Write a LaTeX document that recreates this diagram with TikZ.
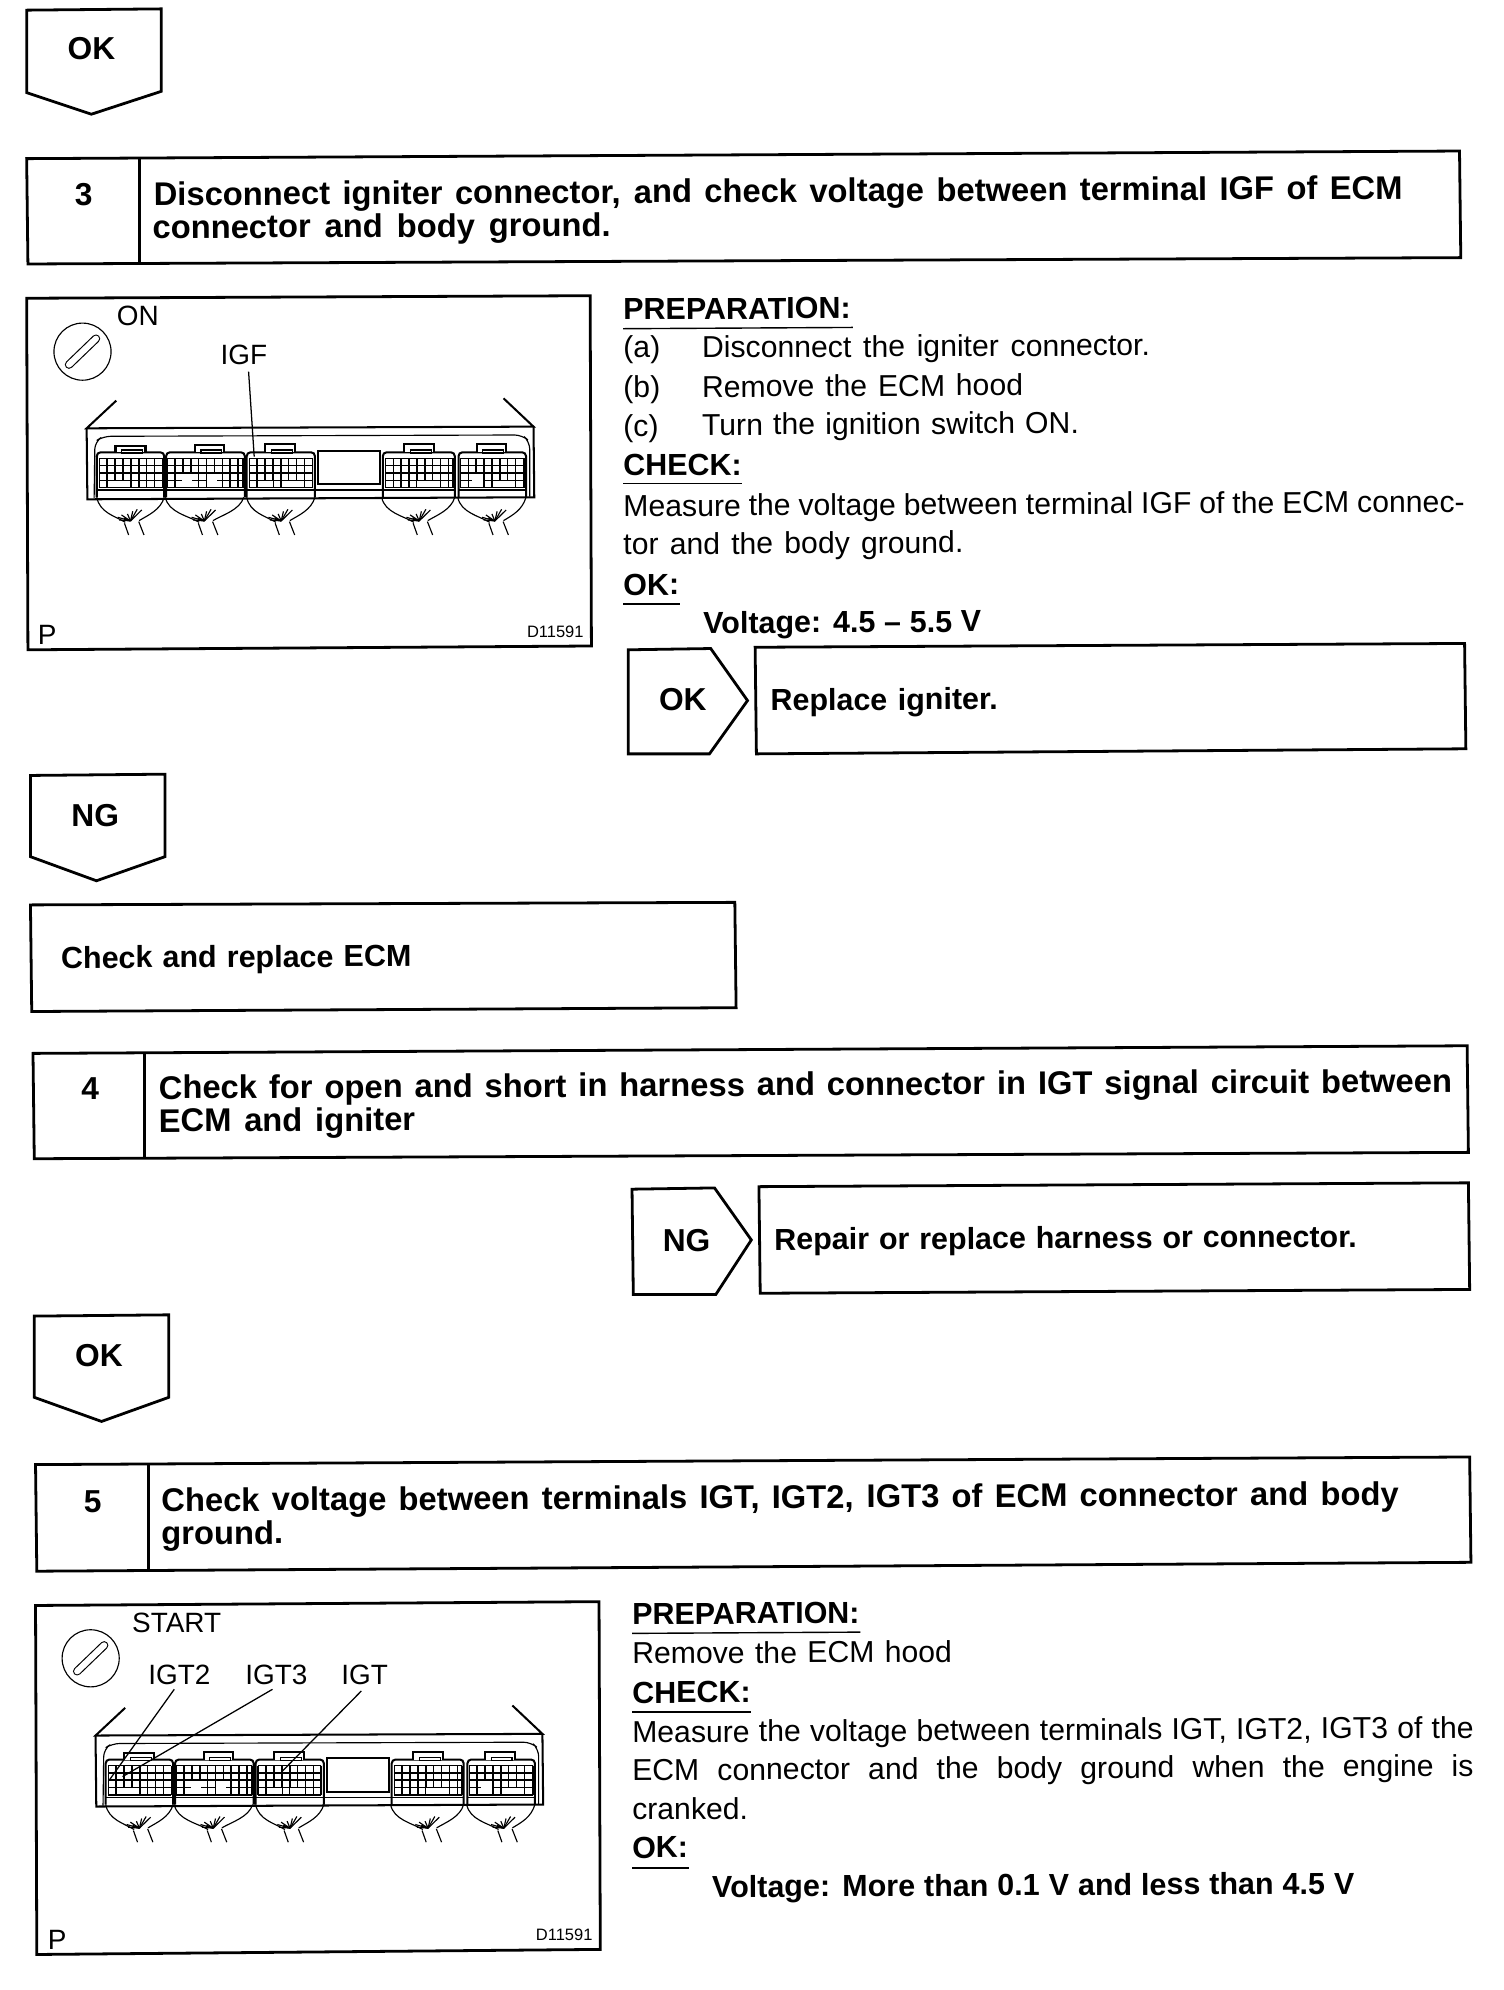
\documentclass[tikz,border=0pt]{standalone}
\usepackage{fontspec}
\setmainfont{Liberation Sans}
\tikzset{
 box/.style={draw=black,line width=2.2pt,line join=miter},
 rule/.style={draw=black,line width=1.1pt},
 body/.style={anchor=base west,inner sep=0pt,rotate=0.3,font=\fontsize{23.8}{24}\selectfont},
 head/.style={anchor=base west,inner sep=0pt,rotate=0.3,font=\fontsize{25.8}{26}\selectfont\bfseries},
 strong/.style={anchor=base west,inner sep=0pt,rotate=0.3,font=\fontsize{24}{24}\selectfont\bfseries},
 tag/.style={anchor=base,inner sep=0pt,font=\fontsize{25}{25}\selectfont\bfseries},
 lab/.style={anchor=base west,inner sep=0pt,font=\fontsize{22}{22}\selectfont},
 tiny/.style={anchor=base west,inner sep=0pt,font=\fontsize{13}{13}\selectfont},
 ecu/.style={draw=black,line width=1.6pt},
 thin/.style={draw=black,line width=0.9pt},
 cell/.style={draw=black,line width=1.2pt},
 leader/.style={draw=black,line width=1pt},
 crop/.style={x=0.2954pt,y=-0.2626pt},
}
% text line of fixed width: style, name, x, y, width, text
\newcommand\tline[6]{\node[#1] (#2) at (#3,#4) {\makebox[#5pt][s]{#6}};}
% connector: x0 x1 gridx0 gridx1 tabx0 tabx1 tabtop
\newcommand\conn[7]{%
 \draw[ecu,rounded corners=3pt] (#1,622) -- (#1,487) -- (#2,487) -- (#2,622);
 \draw[thin] (#1,600) -- (#2,600);
 \draw[ecu,fill=white] (#5,487) -- (#5,#7) -- (#6,#7) -- (#6,487);
 \draw[thin] (#5+16,480) rectangle (#6-8,490);
 \foreach \ry in {505,527,549,571,593} {\draw[cell] (#3,\ry) -- (#4,\ry);}
 \pgfmathsetmacro\stepx{#3+21}
 \foreach \cx in {#3,\stepx,...,#4} {\draw[cell] (\cx,505) -- (\cx,593);}
 \draw[cell] (#4,505) -- (#4,593);
}
% harness: left, centre, right
\newcommand\harn[3]{%
 \draw[thin] (#1,622) .. controls (#1+8,668) and (#2-40,678) .. (#2-12,697);
 \draw[thin] (#3,622) .. controls (#3-10,660) and (#2+50,675) .. (#2+25,692);
 \draw[thin] (#2-14,700) -- (#2-3,735);
 \draw[thin] (#2+24,695) -- (#2+38,735);
 \foreach \ex/\ey in {-32/682,-22/675,-6/672,8/664,20/658,32/660,-28/690,-16/684} {\draw[thin] (#2+2,693) -- (#2+\ex,\ey);}
}
\newcommand\blank[4]{\fill[white] (#1,#2) rectangle (#3,#4);}
% the key symbol: centre x, centre y, slot ends
\newcommand\keysym[6]{%
 \draw[thin] (#1,#2) circle [radius=22.5pt];
 \draw[draw=black,line width=6.6pt,line cap=round] (#3,#4) -- (#5,#6);
 \draw[draw=white,line width=4.8pt,line cap=round] (#3,#4) -- (#5,#6);
}
% the ECM drawing, in the coordinates of a crop
\newcommand\ecmdrawing{%
 \draw[ecu] (257,332) -- (178,415) -- (1370,410) -- (1290,325);
 \draw[ecu] (178,415) -- (180,628) -- (1372,622) -- (1370,410);
 \draw[thin,rounded corners=6pt] (198,625) -- (200,455) -- (222,439) -- (1340,435) -- (1360,455) -- (1360,620);
 \conn{205}{385}{212}{380}{255}{335}{467}
 \conn{390}{600}{393}{595}{467}{545}{465}
 \conn{605}{787}{612}{780}{655}{735}{463}
 \conn{968}{1160}{975}{1155}{1025}{1105}{463}
 \conn{1170}{1350}{1175}{1345}{1218}{1297}{463}
 \blank{236}{573}{294}{591}
 \blank{432}{551}{460}{591}
 \blank{498}{551}{526}{591}
 \blank{648}{573}{676}{591}
 \blank{698}{573}{738}{591}
 \blank{1060}{573}{1104}{591}
 \blank{1206}{551}{1236}{591}
 \blank{1262}{573}{1306}{591}
 \draw[ecu] (795,483) rectangle (960,583);
 \draw[thin] (790,600) -- (965,600);
 \harn{205}{293}{385}
 \harn{388}{490}{597}
 \harn{605}{695}{787}
 \harn{965}{1063}{1160}
 \harn{1168}{1265}{1350}
}
\begin{document}
\begin{tikzpicture}[x=1pt,y=-1pt]
\useasboundingbox (0,0) rectangle (1185,1568);
\fill[white] (0,0) rectangle (1185,1568);

% --- OK pentagon
\draw[box] (21,8) -- (127,7) -- (127,72) -- (72,90) -- (21,73) -- cycle;
\node[tag] (ok1) at (72,47) {OK};

% --- step 3
\draw[box] (21,125) -- (1150,119) -- (1151,203) -- (22,208) -- cycle;
\draw[box] (110,125) -- (110,208);
\node[tag] (n3) at (66,162) {3};
\tline{head}{h3a}{121}{162}{984}{Disconnect igniter connector, and check voltage between terminal IGF of ECM}
\tline{head}{h3b}{120}{188}{361}{connector and body ground.}

% --- figure 1
\draw[box] (21,235) -- (465,233) -- (466,509) -- (22,512) -- cycle;
\begin{scope}[shift={(15.68,228.5)},crop]
 \ecmdrawing
 \keysym{167}{185}{131}{224}{203}{146}
 \node[lab] (on) at (258,108) {ON};
 \node[lab] (igf) at (535,225) {IGF};
 \coordinate (igfstart) at (610,245);
 \coordinate (igfend) at (625,500);
 \draw[leader] (igfstart) -- (igfend);
 \node[lab] (p1) at (47,1065) {P};
 \node[tiny] (d1) at (1352,1042) {D11591};
\end{scope}

% --- preparation 3
\tline{strong}{pr1}{491}{252}{180}{PREPARATION:}
\draw[rule] (491,259) -- (672,258);
\tline{body}{a1}{491}{282}{30}{(a)}
\tline{body}{a2}{553}{282}{353}{Disconnect the igniter connector.}
\tline{body}{b1}{491}{313}{30}{(b)}
\tline{body}{b2}{553}{313}{253}{Remove the ECM hood}
\tline{body}{c1}{491}{344}{28}{(c)}
\tline{body}{c2}{553}{343}{297}{Turn the ignition switch ON.}
\tline{strong}{ck1}{491}{375}{94}{CHECK:}
\draw[rule] (491,381) -- (585,381);
\tline{body}{m1}{491}{407}{663}{Measure the voltage between terminal IGF of the ECM connec-}
\tline{body}{m2}{491}{437}{268}{tor and the body ground.}
\tline{strong}{ok2}{491}{469}{44}{OK:}
\draw[rule] (491,476) -- (536,476);
\tline{strong}{v1}{554}{499}{219}{Voltage: 4.5 -- 5.5 V}

% --- OK -> replace igniter
\draw[box] (495,512) -- (560,511) -- (589,552) -- (559,594) -- (495,594) -- cycle;
\node[tag] (ok3) at (538,560) {OK};
\draw[box] (595,510) -- (1154,507) -- (1155,590) -- (596,594) -- cycle;
\tline{strong}{ri}{607}{560}{179}{Replace igniter.}

% --- NG pentagon
\draw[box] (24,611) -- (130,610) -- (130,675) -- (76,694) -- (24,675) -- cycle;
\node[tag] (ng1) at (75,651) {NG};
\draw[box] (24,713) -- (579,711) -- (580,794) -- (25,797) -- cycle;
\tline{strong}{cr}{48}{763}{276}{Check and replace ECM}

% --- step 4
\draw[box] (26,830) -- (1156,824) -- (1157,908) -- (27,913) -- cycle;
\draw[box] (114,830) -- (114,913);
\node[tag] (n4) at (71,866) {4};
\tline{head}{h4a}{125}{866}{1019}{Check for open and short in harness and connector in IGT signal circuit between}
\tline{head}{h4b}{125}{892}{202}{ECM and igniter}

% --- NG -> repair
\draw[box] (498,937) -- (563,936) -- (592,977) -- (564,1020) -- (499,1020) -- cycle;
\node[tag] (ng2) at (541,986) {NG};
\draw[box] (598,935) -- (1157,932) -- (1158,1016) -- (599,1019) -- cycle;
\tline{strong}{rp}{610}{985}{459}{Repair or replace harness or connector.}

% --- OK pentagon
\draw[box] (27,1037) -- (133,1036) -- (133,1101) -- (80,1120) -- (27,1101) -- cycle;
\node[tag] (ok4) at (78,1077) {OK};

% --- step 5
\draw[box] (28,1154) -- (1158,1148) -- (1159,1231) -- (29,1238) -- cycle;
\draw[box] (117,1154) -- (117,1238);
\node[tag] (n5) at (73,1192) {5};
\tline{head}{h5a}{127}{1191}{975}{Check voltage between terminals IGT, IGT2, IGT3 of ECM connector and body}
\tline{head}{h5b}{127}{1217}{95}{ground.}

% --- figure 2
\draw[box] (28,1265) -- (472,1262) -- (473,1536) -- (29,1540) -- cycle;
\begin{scope}[shift={(22.7,1258.5)},crop]
 \ecmdrawing
\end{scope}
\begin{scope}[shift={(22.7,1252.8)},crop]
 \keysym{165}{205}{129}{244}{201}{166}
 \node[lab] (st) at (275,128) {START};
 \node[lab] (igt2) at (318,285) {IGT2};
 \node[lab] (igt3) at (577,285) {IGT3};
 \node[lab] (igt) at (833,285) {IGT};
 \coordinate (e2) at (215,570);
 \coordinate (e3) at (250,560);
 \coordinate (e1) at (675,545);
 \coordinate (s2) at (388,298);
 \coordinate (s3) at (650,298);
 \coordinate (s1) at (887,303);
 \draw[leader] (s2) -- (e2);
 \draw[leader] (s3) -- (e3);
 \draw[leader] (s1) -- (e1);
 \node[lab] (p2) at (50,1078) {P};
 \node[tiny] (d2) at (1352,1052) {D11591};
\end{scope}

% --- preparation 5
\tline{strong}{pr2}{498}{1280}{180}{PREPARATION:}
\draw[rule] (498,1287) -- (678,1286);
\tline{body}{r2}{498}{1311}{252}{Remove the ECM hood}
\tline{strong}{ck2}{498}{1342}{94}{CHECK:}
\draw[rule] (498,1349) -- (592,1349);
\tline{body}{m3}{498}{1373}{663}{Measure the voltage between terminals IGT, IGT2, IGT3 of the}
\tline{body}{m4}{498}{1403}{663}{ECM connector and the body ground when the engine is}
\tline{body}{m5}{498}{1434}{92}{cranked.}
\tline{strong}{ok5}{498}{1464}{44}{OK:}
\draw[rule] (498,1472) -- (543,1472);
\tline{strong}{v2}{561}{1495}{506}{Voltage: More than 0.1 V and less than 4.5 V}
\end{tikzpicture}
\end{document}
